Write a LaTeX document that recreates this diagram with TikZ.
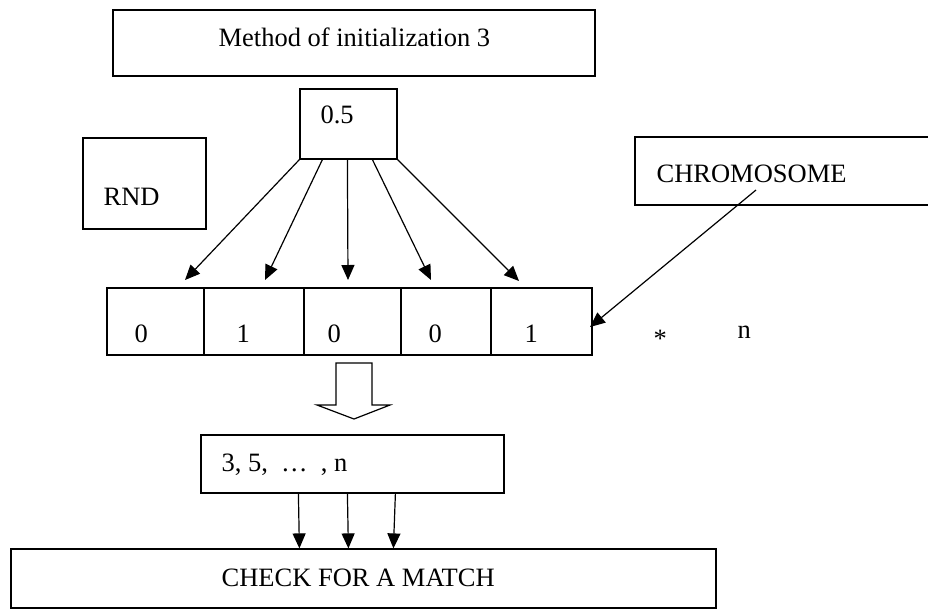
\documentclass[tikz,border=0pt]{standalone}
\usepackage{fontspec}
\setmainfont{Liberation Serif}
\usetikzlibrary{arrows.meta,calc}
\begin{document}
\begin{tikzpicture}[x=1pt,y=-1pt,line width=1.2pt,
  box/.style={draw,rectangle,inner sep=0pt},
  txt/.style={inner sep=0pt,anchor=base west,font=\fontsize{26.5}{30}\selectfont},
  arr/.style={-{Triangle[length=15pt,width=13pt]}}]
\clip (0,0) rectangle (928,614);
\fill[white] (0,0) rectangle (928,614);

% header
\node[box,minimum width=482pt,minimum height=66pt] (init) at (354,43) {};
\node[txt] (tinit) at (218,46) {Method of initialization 3};

% probability box and side boxes
\node[box,minimum width=97pt,minimum height=70pt] (half) at (348.5,124) {};
\node[txt] (thalf) at (320,123) {0.5};
\node[box,minimum width=123pt,minimum height=91pt] (rnd) at (144.5,183.5) {};
\node[txt] (trnd) at (103,205) {RND};
\node[box,minimum width=325pt,minimum height=68pt] (chrom) at (797.5,171) {};
\node[txt] (tchrom) at (656,182) {CHROMOSOME};

% chromosome cells
\node[box,minimum width=97pt,minimum height=67pt] (c1) at (155.5,321.5) {};
\node[box,minimum width=100pt,minimum height=67pt] (c2) at (254,321.5) {};
\node[box,minimum width=97pt,minimum height=67pt] (c3) at (352.5,321.5) {};
\node[box,minimum width=90pt,minimum height=67pt] (c4) at (446,321.5) {};
\node[box,minimum width=101pt,minimum height=67pt] (c5) at (541.5,321.5) {};
\node[txt] (d1) at (134,342) {0};
\node[txt] (d2) at (236,342) {1};
\node[txt] (d3) at (327,342) {0};
\node[txt] (d4) at (428,342) {0};
\node[txt] (d5) at (524,342) {1};
\node[txt] (star) at (653,347) {*};
\node[txt] (tn) at (737,338) {n};

% arrows from 0.5 to the cells
\coordinate (t1) at (185,280);
\coordinate (t2) at (265,280);
\coordinate (t3) at (348,280);
\coordinate (t4) at (431,280);
\coordinate (t5) at (519,281);
\draw[arr] (half.south west) -- (t1);
\draw[arr] ($(half.south west)+(23,0)$) -- (t2);
\draw[arr] ($(half.south west)+(48,0)$) -- (t3);
\draw[arr] ($(half.south west)+(73,0)$) -- (t4);
\draw[arr] (half.south east) -- (t5);

% arrow from the chromosome label
\coordinate (cs) at (756,190);
\coordinate (ct) at (590,327);
\draw[arr] (cs) -- (ct);

% hollow block arrow
\draw[line width=1.2pt] (336,363) -- (372,363) -- (372,405) -- (390,405)
  -- (354,419) -- (317,405) -- (336,405) -- cycle;

% positions box
\node[box,minimum width=303pt,minimum height=58pt] (pos) at (352.5,464) {};
\node[txt] (tpos) at (221,471) {3, 5,\ \ …\ \ , n};

% match box
\node[box,minimum width=705pt,minimum height=59pt] (match) at (363.5,578.5) {};
\node[txt] (tmatch) at (221,586) {CHECK FOR A MATCH};

\draw[arr] ($(pos.south west)+(98,0)$) -- ($(match.north west)+(289,0)$);
\draw[arr] ($(pos.south west)+(147,0)$) -- ($(match.north west)+(338,0)$);
\draw[arr] ($(pos.south west)+(195,0)$) -- ($(match.north west)+(383,0)$);
\end{tikzpicture}
\end{document}
